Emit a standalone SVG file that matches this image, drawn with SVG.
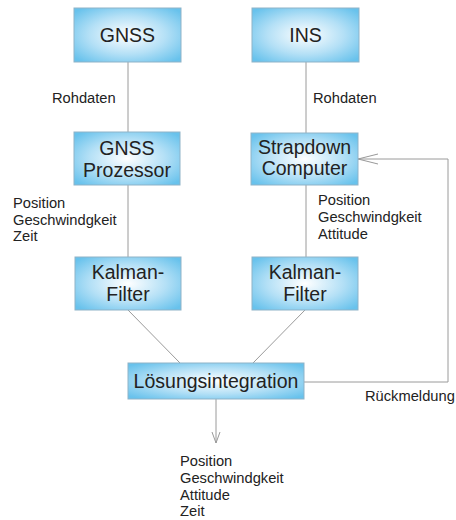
<svg xmlns="http://www.w3.org/2000/svg" width="456" height="520" viewBox="0 0 456 520">
<defs>
<radialGradient id="g" cx="50%" cy="50%" r="65%">
<stop offset="0" stop-color="#ffffff"/>
<stop offset="0.55" stop-color="#b4e0f6"/>
<stop offset="1" stop-color="#68c2ec"/>
</radialGradient>
<marker id="arr" markerWidth="22" markerHeight="12" refX="20" refY="6" orient="auto" markerUnits="userSpaceOnUse">
<path d="M0,1 L20,6 L0,11" fill="none" stroke="#999" stroke-width="1"/>
</marker>
<marker id="arr2" markerWidth="12" markerHeight="10" refX="11" refY="5" orient="auto" markerUnits="userSpaceOnUse">
<path d="M0,1 L11,5 L0,9" fill="none" stroke="#999" stroke-width="1"/>
</marker>
</defs>
<style>
.box{fill:url(#g);stroke:#8fb3c8;stroke-width:1}
.t{font-family:"Liberation Sans",Arial,sans-serif;font-size:19.5px;fill:#222;text-anchor:middle}
.s{font-family:"Liberation Sans",Arial,sans-serif;font-size:14.7px;fill:#222}
.c{stroke:#9a9a9a;stroke-width:1;fill:none}
</style>
<rect width="456" height="520" fill="#fff"/>
<g id="connectors">
<line class="c" x1="128" y1="62" x2="128" y2="132"/>
<line class="c" x1="306" y1="62" x2="306" y2="133"/>
<line class="c" x1="128" y1="185" x2="128" y2="257"/>
<line class="c" x1="306" y1="185" x2="306" y2="257"/>
<line class="c" x1="128" y1="310" x2="180" y2="363"/>
<line class="c" x1="305" y1="310" x2="253" y2="363"/>
<polyline class="c" points="304,382 448,382 448,159 358,159" marker-end="url(#arr)"/>
<line class="c" x1="216" y1="399" x2="216" y2="443" marker-end="url(#arr2)"/>
<text class="s" x="52" y="103">Rohdaten</text>
<text class="s" x="313" y="103">Rohdaten</text>
<text class="s" x="13" y="208">Position</text>
<text class="s" x="13" y="224.5">Geschwindgkeit</text>
<text class="s" x="13" y="241">Zeit</text>
<text class="s" x="318" y="205">Position</text>
<text class="s" x="318" y="222">Geschwindgkeit</text>
<text class="s" x="318" y="239">Attitude</text>
<text class="s" x="365" y="401">Rückmeldung</text>
<text class="s" x="180" y="466">Position</text>
<text class="s" x="180" y="483">Geschwindgkeit</text>
<text class="s" x="180" y="500">Attitude</text>
<text class="s" x="180" y="516">Zeit</text>
</g>
<g id="gnss">
<rect class="box" x="74" y="8" width="107" height="54"/>
<text class="t" x="127.5" y="42">GNSS</text>
</g>
<g id="ins">
<rect class="box" x="252" y="8" width="107" height="54"/>
<text class="t" x="305.5" y="42">INS</text>
</g>
<g id="gnss-prozessor">
<rect class="box" x="74" y="132" width="106" height="53"/>
<text class="t" x="127" y="155">GNSS</text>
<text class="t" x="127" y="177">Prozessor</text>
</g>
<g id="strapdown">
<rect class="box" x="251" y="133" width="107" height="52"/>
<text class="t" x="304.5" y="154">Strapdown</text>
<text class="t" x="304.5" y="175">Computer</text>
</g>
<g id="kalman1">
<rect class="box" x="75" y="257" width="106" height="53"/>
<text class="t" x="128" y="279">Kalman-</text>
<text class="t" x="128" y="301">Filter</text>
</g>
<g id="kalman2">
<rect class="box" x="252" y="257" width="106" height="53"/>
<text class="t" x="305" y="279">Kalman-</text>
<text class="t" x="305" y="301">Filter</text>
</g>
<g id="loesung">
<rect class="box" x="128" y="363" width="176" height="36"/>
<text class="t" x="216" y="388">Lösungsintegration</text>
</g>
</svg>
